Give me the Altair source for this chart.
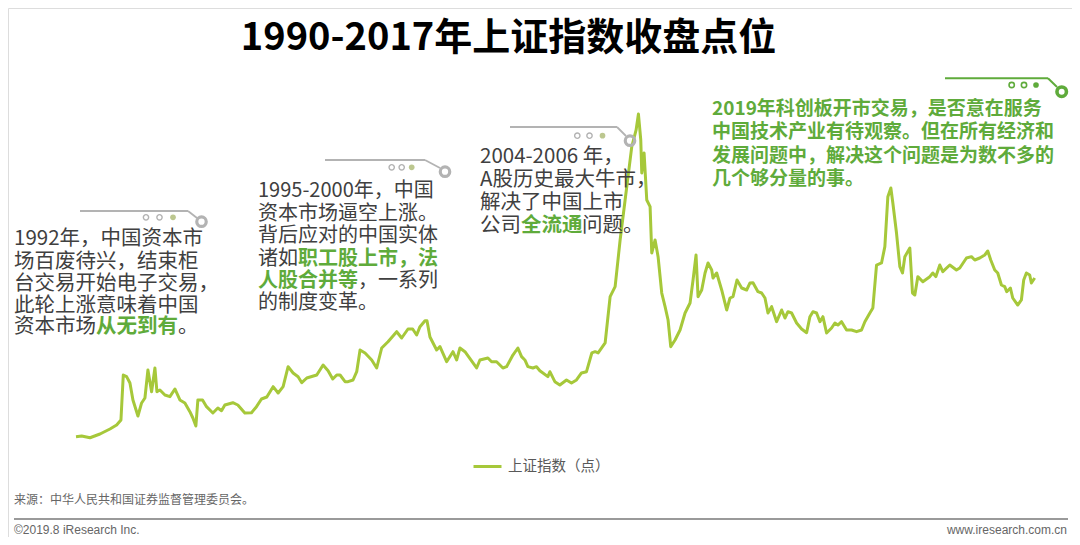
import altair as alt
import pandas as pd

# ---- data (Shanghai Composite, monthly close) ----
years = [1990.95, 1991.12, 1991.37, 1991.67, 1991.97, 1992.17, 1992.30, 1992.37, 1992.47, 1992.57,
         1992.66, 1992.81, 1992.92, 1993.02, 1993.11, 1993.22, 1993.32, 1993.38, 1993.47, 1993.62,
         1993.77, 1993.92, 1994.07, 1994.22, 1994.37, 1994.46, 1994.55, 1994.61, 1994.75, 1994.87,
         1995.06, 1995.21, 1995.32, 1995.42, 1995.66, 1995.81, 1996.02, 1996.22, 1996.37, 1996.52,
         1996.68, 1996.87, 1997.02, 1997.17, 1997.32, 1997.47, 1997.62, 1997.73, 1997.88, 1998.18,
         1998.37, 1998.52, 1998.66, 1998.78, 1998.88, 1999.03, 1999.12, 1999.27, 1999.38, 1999.48,
         1999.63, 1999.83, 1999.98, 2000.13, 2000.32, 2000.58, 2000.73, 2000.92, 2001.06, 2001.18,
         2001.28, 2001.43, 2001.49, 2001.58, 2001.78, 2001.88, 2002.08, 2002.27, 2002.38, 2002.48,
         2002.63, 2002.98, 2003.08, 2003.32, 2003.43, 2003.58, 2003.77, 2003.88, 2004.07, 2004.22,
         2004.33, 2004.43, 2004.52, 2004.67, 2004.78, 2004.88, 2005.12, 2005.18, 2005.33, 2005.48,
         2005.68, 2005.83, 2005.98, 2006.13, 2006.28, 2006.44, 2006.54, 2006.63, 2006.84, 2006.99,
         2007.14, 2007.29, 2007.44, 2007.64, 2007.77, 2007.84, 2007.91, 2007.94, 2008.01, 2008.09,
         2008.19, 2008.24, 2008.34, 2008.43, 2008.54, 2008.64, 2008.73, 2008.81, 2008.94, 2009.09,
         2009.24, 2009.39, 2009.48, 2009.57, 2009.63, 2009.74, 2009.84, 2009.93, 2010.04, 2010.08,
         2010.19, 2010.34, 2010.49, 2010.59, 2010.68, 2010.80, 2010.94, 2011.09, 2011.19, 2011.28,
         2011.43, 2011.54, 2011.64, 2011.73, 2011.84, 2011.99, 2012.14, 2012.24, 2012.33, 2012.44,
         2012.59, 2012.74, 2012.89, 2012.99, 2013.08, 2013.19, 2013.29, 2013.38, 2013.49, 2013.64,
         2013.74, 2013.83, 2013.94, 2014.09, 2014.24, 2014.39, 2014.54, 2014.64, 2014.79, 2014.88,
         2014.99, 2015.14, 2015.24, 2015.33, 2015.42, 2015.48, 2015.59, 2015.69, 2015.77, 2015.84,
         2015.99, 2016.07, 2016.14, 2016.23, 2016.38, 2016.59, 2016.68, 2016.77, 2016.89, 2016.98,
         2017.19, 2017.39, 2017.49, 2017.69, 2017.84, 2017.94, 2018.09, 2018.24, 2018.33, 2018.42,
         2018.54, 2018.63, 2018.74, 2018.84, 2018.90, 2019.01, 2019.08, 2019.23, 2019.34, 2019.41,
         2019.49, 2019.59, 2019.64, 2019.74]
values = [124, 136, 105, 172, 263, 335, 426, 1240, 1210, 1096,
          788, 498, 734, 824, 1331, 938, 1367, 938, 969, 878,
          848, 987, 788, 734, 576, 462, 317, 788, 788, 667,
          553, 643, 594, 697, 739, 697, 553, 558, 667, 806,
          842, 1029, 915, 1029, 1391, 1277, 1210, 1101, 1186, 1240,
          1421, 1318, 1168, 1240, 1240, 1119, 1119, 1150, 1300, 1693,
          1639, 1512, 1367, 1729, 1843, 2024, 1910, 2073, 2073, 1964,
          2115, 2223, 2223, 1928, 1693, 1753, 1481, 1662, 1512, 1729,
          1662, 1367, 1512, 1548, 1481, 1481, 1367, 1391, 1602, 1729,
          1572, 1512, 1391, 1367, 1391, 1318, 1210, 1300, 1119, 1059,
          1150, 1096, 1150, 1277, 1300, 1639, 1662, 1639, 1820, 2658,
          2839, 3684, 4408, 5373, 5675, 5964, 5494, 4897, 5258, 4408,
          4287, 3448, 3684, 3382, 2724, 2477, 2236, 1753, 1874, 2055,
          2363, 2544, 2960, 3412, 2658, 2779, 3087, 3268, 3141, 2996,
          3087, 2779, 2417, 2634, 2658, 2960, 2815, 2779, 2906, 2911,
          2748, 2724, 2634, 2363, 2477, 2205, 2417, 2272, 2386, 2363,
          2182, 2073, 2006, 2296, 2386, 2363, 2205, 2296, 2001, 2091,
          2182, 2145, 2205, 2055, 2055, 2024, 2055, 2205, 2363, 2453,
          3231, 3268, 3563, 4468, 4625, 4354, 3810, 3201, 3087, 3382,
          3539, 2724, 2688, 3020, 2929, 3020, 3087, 3020, 3231, 3110,
          3231, 3141, 3177, 3358, 3382, 3322, 3358, 3412, 3485, 3322,
          3141, 3087, 2869, 2839, 2748, 2815, 2634, 2507, 2598, 2960,
          3087, 3051, 2906, 2996]
series_name = "上证指数（点）"

title_text = "1990-2017年上证指数收盘点位"
source_text = "来源：中华人民共和国证券监督管理委员会。"
copyright_text = "©2019.8 iResearch Inc."
site_text = "www.iresearch.com.cn"

# annotation text segments: (page x, page y, text)
dark_segments = [
    (14, 239, "1992年，中国资本市"), (14, 261.5, "场百废待兴，结束柜"),
    (14, 284, "台交易开始电子交易，"), (14, 306, "此轮上涨意味着中国"),
    (14, 327, "资本市场"), (178, 327, "。"),
    (258, 191, "1995-2000年，中国"), (258, 213.5, "资本市场逼空上涨。"),
    (258, 236, "背后应对的中国实体"), (258, 258.5, "诸如"),
    (358, 281, "，一系列"), (258, 303, "的制度变革。"),
    (480, 157, "2004-2006 年，"), (480, 179.5, "A股历史最大牛市，"),
    (480, 202.5, "解决了中国上市"), (480, 225.5, "公司"), (582, 225.5, "问题。"),
]
green_segments = [
    (96, 327, "从无到有"),
    (298, 258.5, "职工股上市，法"), (258, 281, "人股合并等"),
    (521, 225.5, "全流通"),
]
green_block = [
    (712, 109, "2019年科创板开市交易，是否意在服务"),
    (712, 132, "中国技术产业有待观察。但在所有经济和"),
    (712, 155.5, "发展问题中，解决这个问题是为数不多的"),
    (712, 178.5, "几个够分量的事。"),
]

# decorative connectors (page coords): lines, rings, dots
deco_gray_lines = [(80, 211, 188, 211), (188, 211, 197, 218),
                   (325, 160, 425, 160), (425, 160, 440, 168),
                   (510, 127, 617, 127), (617, 127, 626, 136)]
deco_gray_rings = [(201.5, 221.7), (445, 171.7), (630, 140.7)]
deco_gray_hollow = [(146, 217.3), (159.5, 217.3), (391.7, 167.3), (401.7, 167.3), (577.3, 135.7), (589.5, 135.7)]
deco_gray_filled = [(173, 217.3), (411.7, 167.3), (602.5, 135.7)]
deco_green_lines = [(945, 78.3, 1048, 78.3), (1048, 78.3, 1057, 87)]
deco_green_rings = [(1061.7, 91.7)]
deco_green_hollow = [(1011.7, 85), (1024, 85)]
deco_green_filled = [(1036, 85)]

LINE_COLOR = "#a6c83a"
GREEN = "#5fab3b"
DARK = "#404040"
GRAY = "#b3b3b3"
FONT = "Noto Sans CJK SC"
NARROW = "Liberation Sans Narrow, Liberation Sans, sans-serif"
OFF = 8  # page margin
W, H = 1064, 529

df = pd.DataFrame({"year": years, "value": values, "series": series_name})

line = alt.Chart(df).mark_line(strokeWidth=3, strokeJoin="round").encode(
    x=alt.X("year:Q", scale=alt.Scale(domain=[1988.908, 2020.86], nice=False, zero=False), axis=None),
    y=alt.Y("value:Q", scale=alt.Scale(domain=[-1692, 7883], nice=False, zero=False), axis=None),
    color=alt.Color("series:N", scale=alt.Scale(range=[LINE_COLOR]),
                    legend=alt.Legend(orient="none", legendX=464, legendY=443, title=None,
                                      symbolType="stroke", symbolSize=784, symbolStrokeWidth=3,
                                      labelFontSize=14.5, labelColor="#595959", labelFont=FONT,
                                      labelOffset=5, padding=0)),
)


def px(rows, cols):
    d = pd.DataFrame(rows, columns=cols)
    for c in cols:
        if c.startswith("x") or c.startswith("y"):
            d[c] = d[c] - OFF
    return d


def text_layer(rows, color, size, weight="normal", align="left", font=FONT):
    d = px(rows, ["x", "y", "t"])
    return alt.Chart(d).mark_text(align=align, baseline="middle", color=color, fontSize=size,
                                  fontWeight=weight, font=font).encode(
        x=alt.X("x:Q", scale=None), y=alt.Y("y:Q", scale=None), text="t:N")


def rule_layer(rows, color, width):
    d = px(rows, ["x", "y", "x2", "y2"])
    return alt.Chart(d).mark_rule(color=color, strokeWidth=width).encode(
        x=alt.X("x:Q", scale=None), y=alt.Y("y:Q", scale=None),
        x2="x2:Q", y2="y2:Q")


def point_layer(rows, color, size, filled, width=1.2):
    d = px(rows, ["x", "y"])
    if filled:
        mk = alt.Chart(d).mark_point(shape="circle", filled=True, color=color, size=size, opacity=1)
    else:
        mk = alt.Chart(d).mark_point(shape="circle", filled=False, color=color, size=size,
                                     strokeWidth=width, opacity=1)
    return mk.encode(x=alt.X("x:Q", scale=None), y=alt.Y("y:Q", scale=None))


layers = [
    line,
    text_layer([(508.5, 39, title_text)], "#000000", 38, "bold", "center"),
    text_layer(dark_segments[:6], DARK, 20.5),
    text_layer(dark_segments[6:12], DARK, 20),
    text_layer(dark_segments[12:], DARK, 20.5),
    text_layer(green_segments[:1], GREEN, 20.5, "bold"),
    text_layer(green_segments[1:3], GREEN, 20, "bold"),
    text_layer(green_segments[3:], GREEN, 20.5, "bold"),
    text_layer(green_block, GREEN, 19, "bold"),
    rule_layer(deco_gray_lines, GRAY, 1.8),
    point_layer(deco_gray_rings, GRAY, 90, False, 3.2),
    point_layer(deco_gray_hollow, GRAY, 28, False, 1.4),
    point_layer(deco_gray_filled, "#bcc78f", 32, True),
    rule_layer(deco_green_lines, GREEN, 2),
    point_layer(deco_green_rings, GREEN, 90, False, 3.6),
    point_layer(deco_green_hollow, GREEN, 28, False, 1.6),
    point_layer(deco_green_filled, GREEN, 32, True),
    text_layer([(14, 500, source_text)], "#666666", 12),
    rule_layer([(14, 519, 1068, 519)], "#9a9a9a", 2),
    text_layer([(14, 530, copyright_text)], "#666666", 12, font=NARROW),
    text_layer([(1067, 530, site_text)], "#666666", 12, align="right", font=NARROW),
]

chart = alt.layer(*layers).resolve_scale(x="independent", y="independent").properties(
    width=W, height=H, padding=0,
    autosize=alt.AutoSizeParams(type="none"),
).configure_view(stroke=None).configure(background="white")

chart.save("out.html", embed_options={"renderer": "svg", "actions": False})
